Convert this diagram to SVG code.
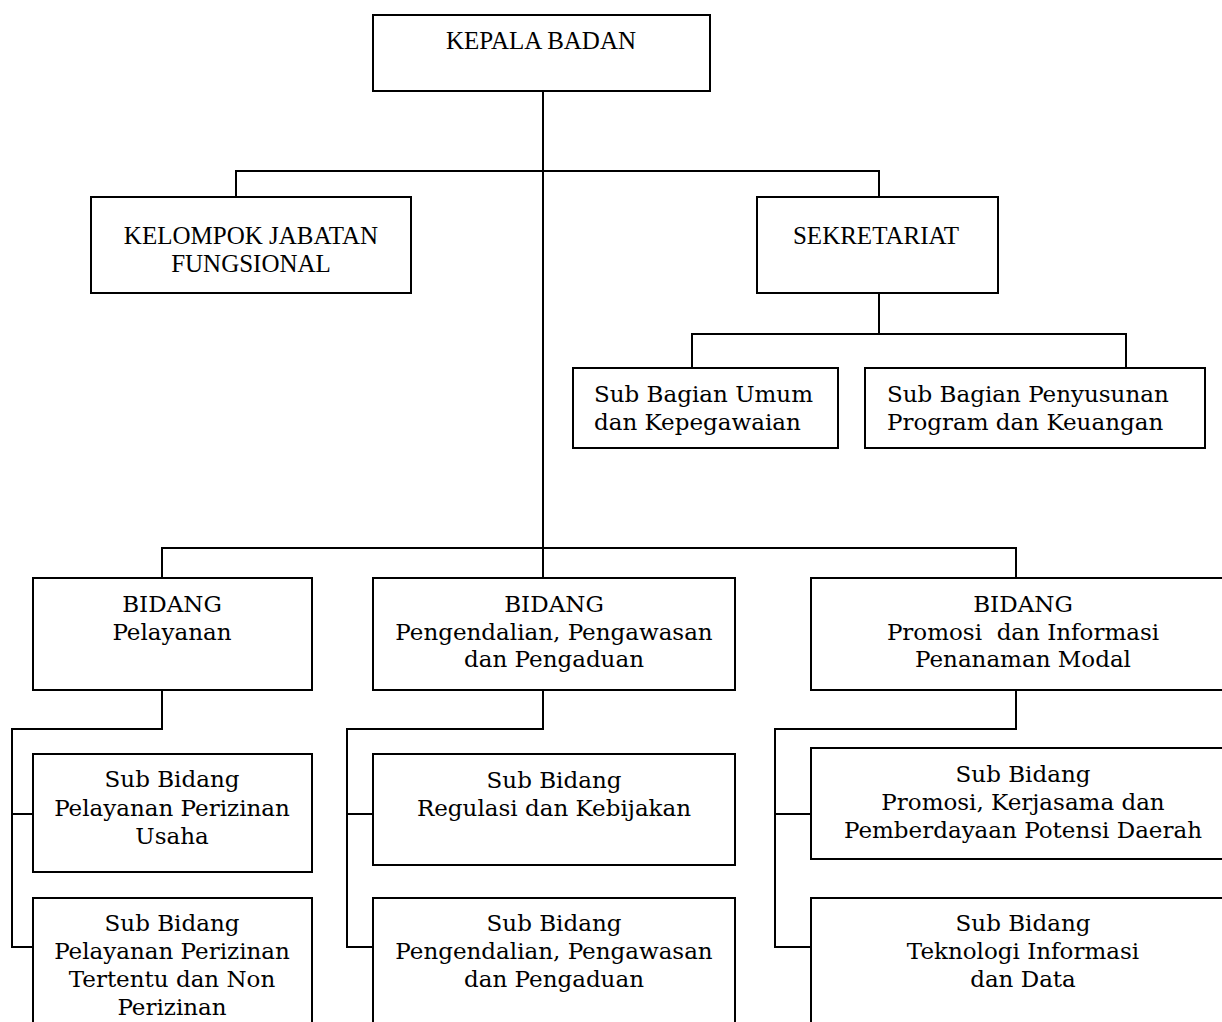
<svg xmlns="http://www.w3.org/2000/svg" width="1222" height="1022" viewBox="0 0 1222 1022">
<style>
rect.box{fill:#fff;stroke:#000;stroke-width:2}
.conn path{fill:none;stroke:#000;stroke-width:2}
text{fill:#000}
.t{font-family:"Liberation Serif","Times New Roman",serif;font-size:25px;text-anchor:middle}
.m{font-family:"DejaVu Serif","Liberation Serif",serif;font-size:23px;text-anchor:middle}
.l{font-family:"DejaVu Serif","Liberation Serif",serif;font-size:23px;text-anchor:start}
</style>
<rect width="1222" height="1022" fill="#fff"/>
<g class="conn">
<path d="M543,91 V578"/>
<path d="M236,197 V171 H879 V197"/>
<path d="M879,293 V334"/>
<path d="M692,368 V334 H1126 V368"/>
<path d="M162,578 V548 H1016 V578"/>
<path d="M162,690 V729 H12 V947 H33 M12,814 H33"/>
<path d="M543,690 V729 H347 V947 H373 M347,814 H373"/>
<path d="M1016,690 V729 H775 V947 H811 M775,814 H811"/>
</g>
<g id="kepala">
<rect class="box" x="373" y="15" width="337" height="76"/>
<text class="t" x="541" y="48.5">KEPALA BADAN</text>
</g>
<g id="kelompok">
<rect class="box" x="91" y="197" width="320" height="96"/>
<text class="t" x="251" y="244">KELOMPOK JABATAN</text>
<text class="t" x="251" y="272">FUNGSIONAL</text>
</g>
<g id="sekretariat">
<rect class="box" x="757" y="197" width="241" height="96"/>
<text class="t" x="876" y="244">SEKRETARIAT</text>
</g>
<g id="subbag-umum">
<rect class="box" x="573" y="368" width="265" height="80"/>
<text class="l" x="594" y="401.5">Sub Bagian Umum</text>
<text class="l" x="594" y="430">dan Kepegawaian</text>
</g>
<g id="subbag-program">
<rect class="box" x="865" y="368" width="340" height="80"/>
<text class="l" x="887" y="401.5">Sub Bagian Penyusunan</text>
<text class="l" x="887" y="430">Program dan Keuangan</text>
</g>
<g id="bidang-pelayanan">
<rect class="box" x="33" y="578" width="279" height="112"/>
<text class="m" x="172" y="612">BIDANG</text>
<text class="m" x="172" y="639.5">Pelayanan</text>
</g>
<g id="bidang-pengendalian">
<rect class="box" x="373" y="578" width="362" height="112"/>
<text class="m" x="554" y="612">BIDANG</text>
<text class="m" x="554" y="639.5">Pengendalian, Pengawasan</text>
<text class="m" x="554" y="667">dan Pengaduan</text>
</g>
<g id="bidang-promosi">
<rect class="box" x="811" y="578" width="424" height="112"/>
<text class="m" x="1023" y="612">BIDANG</text>
<text class="m" x="1023" y="639.5" xml:space="preserve">Promosi  dan Informasi</text>
<text class="m" x="1023" y="667">Penanaman Modal</text>
</g>
<g id="sub-perizinan-usaha">
<rect class="box" x="33" y="754" width="279" height="118"/>
<text class="m" x="172" y="787">Sub Bidang</text>
<text class="m" x="172" y="815.5">Pelayanan Perizinan</text>
<text class="m" x="172" y="844">Usaha</text>
</g>
<g id="sub-perizinan-tertentu">
<rect class="box" x="33" y="898" width="279" height="140"/>
<text class="m" x="172" y="931">Sub Bidang</text>
<text class="m" x="172" y="959">Pelayanan Perizinan</text>
<text class="m" x="172" y="987">Tertentu dan Non</text>
<text class="m" x="172" y="1015">Perizinan</text>
</g>
<g id="sub-regulasi">
<rect class="box" x="373" y="754" width="362" height="111"/>
<text class="m" x="554" y="787.5">Sub Bidang</text>
<text class="m" x="554" y="815.5">Regulasi dan Kebijakan</text>
</g>
<g id="sub-pengendalian">
<rect class="box" x="373" y="898" width="362" height="140"/>
<text class="m" x="554" y="931">Sub Bidang</text>
<text class="m" x="554" y="959">Pengendalian, Pengawasan</text>
<text class="m" x="554" y="987">dan Pengaduan</text>
</g>
<g id="sub-promosi">
<rect class="box" x="811" y="748" width="424" height="111"/>
<text class="m" x="1023" y="782">Sub Bidang</text>
<text class="m" x="1023" y="809.5">Promosi, Kerjasama dan</text>
<text class="m" x="1023" y="838">Pemberdayaan Potensi Daerah</text>
</g>
<g id="sub-teknologi">
<rect class="box" x="811" y="898" width="424" height="140"/>
<text class="m" x="1023" y="931">Sub Bidang</text>
<text class="m" x="1023" y="959">Teknologi Informasi</text>
<text class="m" x="1023" y="987">dan Data</text>
</g>
</svg>
